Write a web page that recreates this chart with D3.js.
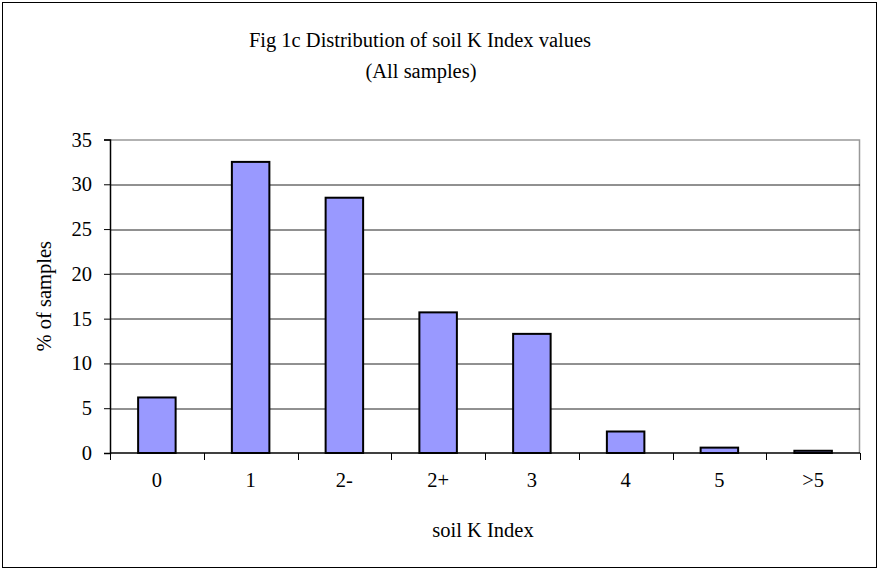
<!DOCTYPE html>
<html>
<head>
<meta charset="utf-8">
<script src="https://cdn.jsdelivr.net/npm/d3@7"></script>
<style>
  body { margin: 0; background: #fff; }
  text { font-family: "Liberation Serif", "Times New Roman", serif; fill: #000; }
</style>
</head>
<body>
<svg id="chart" width="880" height="572"></svg>
<script>
const categories = ["0", "1", "2-", "2+", "3", "4", "5", ">5"];
const percentSamples = [6.2, 32.5, 28.5, 15.7, 13.3, 2.4, 0.6, 0.25];
const yTicks = [0, 5, 10, 15, 20, 25, 30, 35];

const svg = d3.select("#chart");
const margin = { top: 139.5, right: 20, bottom: 119, left: 110 };
const width = 880 - margin.left - margin.right;
const height = 572 - margin.top - margin.bottom;
const fontSize = 20.5;

// outer frame
svg.append("rect")
  .attr("x", 2.5).attr("y", 2.5)
  .attr("width", 874).attr("height", 565)
  .attr("fill", "#fff").attr("stroke", "#000").attr("stroke-width", 1);

const g = svg.append("g").attr("transform", `translate(${margin.left},${margin.top})`);

const x = d3.scaleBand().domain(categories).range([0, width]).paddingInner(0.6).paddingOuter(0.3);
const xBand = d3.scaleBand().domain(categories).range([0, width]);
const y = d3.scaleLinear().domain([0, 35]).range([height, 0]);

// plot frame (top and right gray)
g.append("path")
  .attr("d", `M0,0.5H${width - 0.5}V${height}`)
  .attr("fill", "none").attr("stroke", "#999").attr("stroke-width", 1.5);

// gridlines
g.append("g")
  .selectAll("line")
  .data(yTicks.filter(d => d > 0 && d < 35))
  .join("line")
  .attr("x1", 0).attr("x2", width)
  .attr("y1", d => Math.round(y(d)) + 0.5).attr("y2", d => Math.round(y(d)) + 0.5)
  .attr("stroke", "#222").attr("stroke-width", 1);

// bars
g.append("g")
  .selectAll("rect")
  .data(percentSamples)
  .join("rect")
  .attr("x", (d, i) => x(categories[i]))
  .attr("y", d => y(d))
  .attr("width", x.bandwidth())
  .attr("height", d => height - y(d))
  .attr("fill", "#9999ff")
  .attr("stroke", "#000").attr("stroke-width", 2);

// y axis
const yAxis = g.append("g")
  .call(d3.axisLeft(y).tickValues(yTicks).tickSize(6).tickPadding(12));
yAxis.select(".domain").attr("stroke", "#000").attr("stroke-width", 1.5);
yAxis.selectAll("text").attr("font-size", fontSize).attr("font-family", "Liberation Serif, serif");

// x axis with ticks at band boundaries
const xAxisG = g.append("g").attr("transform", `translate(0,${height})`);
xAxisG.append("line")
  .attr("x1", 0).attr("x2", width).attr("y1", 0).attr("y2", 0)
  .attr("stroke", "#000").attr("stroke-width", 1.5);
xAxisG.selectAll(".tick")
  .data(categories.concat([null]))
  .join("line")
  .attr("x1", (d, i) => Math.round(i * xBand.step()) + 0.5)
  .attr("x2", (d, i) => Math.round(i * xBand.step()) + 0.5)
  .attr("y1", 0).attr("y2", 7)
  .attr("stroke", "#000");
xAxisG.selectAll(".lab")
  .data(categories)
  .join("text")
  .attr("x", d => xBand(d) + xBand.bandwidth() / 2)
  .attr("y", 34)
  .attr("text-anchor", "middle")
  .attr("font-size", fontSize)
  .text(d => d);

// titles
svg.append("text").attr("x", 420).attr("y", 47).attr("text-anchor", "middle")
  .attr("font-size", fontSize).text("Fig 1c Distribution of soil K Index values");
svg.append("text").attr("x", 421).attr("y", 78).attr("text-anchor", "middle")
  .attr("font-size", fontSize).text("(All samples)");

svg.append("text").attr("x", 483).attr("y", 537).attr("text-anchor", "middle")
  .attr("font-size", fontSize).text("soil K Index");

svg.append("text")
  .attr("transform", `translate(51,${margin.top + height / 2}) rotate(-90)`)
  .attr("text-anchor", "middle")
  .attr("font-size", fontSize).text("% of samples");
</script>
</body>
</html>
